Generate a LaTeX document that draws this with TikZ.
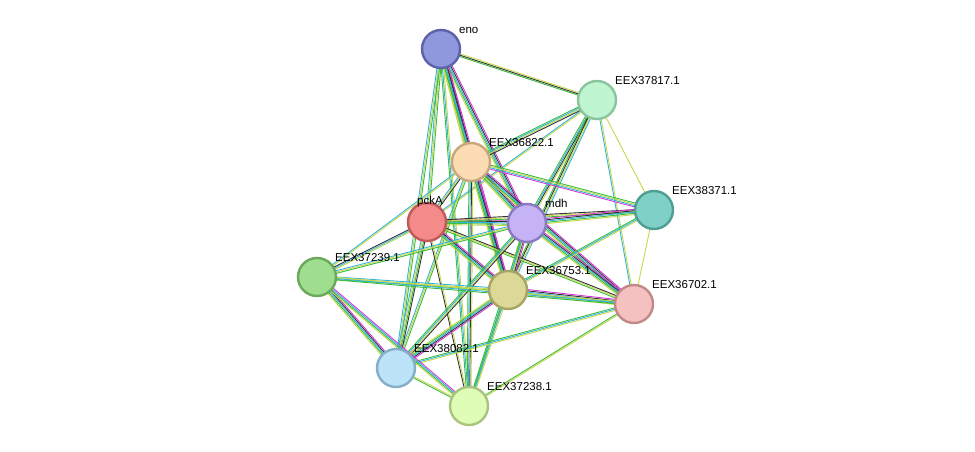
\documentclass[tikz,border=0pt]{standalone}
\usepackage{fontspec}
\setmainfont{Liberation Sans}
\usetikzlibrary{calc}
\definecolor{cY}{HTML}{C8D84A}\definecolor{cG}{HTML}{3DBD3D}\definecolor{cB}{HTML}{31B4E0}
\definecolor{cK}{HTML}{333333}\definecolor{cM}{HTML}{D63AD6}
\newcommand\E[3]{%
 \foreach \c [count=\n] in {#3}{\xdef\nn{\n}}%
 \foreach \c [count=\i] in {#3}{%
  \pgfmathsetmacro\o{(\i-(\nn+1)/2)*1.3}%
  \draw[\c,line width=0.9pt] ($(#1)!\o pt!90:(#2)$) -- ($(#2)!\o pt!-90:(#1)$);}}
\newcommand\ER[2]{\E{#1}{#2}{cY,cG,cB,cK,cM}}
\tikzset{prot/.style={circle,minimum size=38pt,line width=2.4pt,inner sep=0pt},
 lab/.style={font=\fontsize{11.5}{12}\selectfont,anchor=south west,inner sep=1pt}}
\begin{document}
\begin{tikzpicture}[x=1pt,y=-1pt]
\useasboundingbox (0,0) rectangle (975,452);
\fill[white] (0,0) rectangle (975,452);
\coordinate (eno) at (441,49);
\coordinate (e817) at (597,100);
\coordinate (e822) at (471,162);
\coordinate (pck) at (427,222);
\coordinate (mdh) at (527,223);
\coordinate (e371) at (654,210);
\coordinate (e239) at (317,277);
\coordinate (e753) at (508,290);
\coordinate (e702) at (634,304);
\coordinate (e082) at (396,368);
\coordinate (e238) at (469,406);
\E{eno}{e817}{cG,cK,cY}
\ER{eno}{e822}
\E{eno}{pck}{cB,cY,cG}
\ER{eno}{mdh}
\ER{eno}{e753}
\E{eno}{e238}{cG,cB,cY}
\E{eno}{e082}{cB,cY,cG}
\E{e817}{e822}{cG,cB,cY,cK}
\E{e817}{pck}{cB,cY}
\E{e817}{mdh}{cG,cB,cK,cY}
\E{e817}{e753}{cG,cK,cY,cB}
\E{e817}{e371}{cY}
\E{e817}{e702}{cB,cY}
\E{e822}{pck}{cB,cY,cK}
\ER{e822}{mdh}
\E{e822}{e371}{cM,cB,cY,cG}
\ER{e822}{e753}
\ER{e822}{e702}
\E{e822}{e239}{cB,cY}
\E{e822}{e082}{cB,cY,cG}
\E{e822}{e238}{cG,cB,cK,cY}
\ER{pck}{mdh}
\E{pck}{e371}{cG,cY,cK}
\ER{pck}{e753}
\E{pck}{e702}{cG,cY,cK}
\E{pck}{e239}{cK,cB,cY}
\E{pck}{e082}{cB,cY,cG,cK}
\E{pck}{e238}{cK,cY}
\ER{mdh}{e371}
\ER{mdh}{e753}
\ER{mdh}{e702}
\E{mdh}{e239}{cB,cY,cG}
\E{mdh}{e082}{cG,cB,cY,cK}
\E{mdh}{e238}{cG,cB,cY}
\E{e371}{e753}{cG,cB,cY}
\E{e371}{e702}{cY}
\ER{e753}{e702}
\E{e753}{e239}{cB,cY,cG}
\ER{e753}{e082}
\E{e753}{e238}{cG,cB,cY}
\E{e702}{e082}{cG,cB,cY}
\E{e702}{e238}{cG,cY}
\ER{e239}{e082}
\E{e239}{e238}{cY,cG,cB,cM}
\E{e239}{e702}{cG,cB,cY}
\E{e082}{e238}{cG,cY}
\node[prot,fill={rgb,255:red,143;green,151;blue,221},draw={rgb,255:red,92;green,99;blue,168}] (neno) at (eno) {};
\node[prot,fill={rgb,255:red,192;green,245;blue,210},draw={rgb,255:red,139;green,196;blue,158}] (ne817) at (e817) {};
\node[prot,fill={rgb,255:red,252;green,220;blue,178},draw={rgb,255:red,201;green,167;blue,126}] (ne822) at (e822) {};
\node[prot,fill={rgb,255:red,245;green,138;blue,138},draw={rgb,255:red,192;green,90;blue,90}] (npck) at (pck) {};
\node[prot,fill={rgb,255:red,198;green,179;blue,245},draw={rgb,255:red,138;green,121;blue,192}] (nmdh) at (mdh) {};
\node[prot,fill={rgb,255:red,127;green,208;blue,198},draw={rgb,255:red,79;green,158;blue,148}] (ne371) at (e371) {};
\node[prot,fill={rgb,255:red,159;green,221;blue,143},draw={rgb,255:red,106;green,168;blue,92}] (ne239) at (e239) {};
\node[prot,fill={rgb,255:red,220;green,216;blue,152},draw={rgb,255:red,168;green,164;blue,100}] (ne753) at (e753) {};
\node[prot,fill={rgb,255:red,245;green,192;blue,192},draw={rgb,255:red,192;green,138;blue,138}] (ne702) at (e702) {};
\node[prot,fill={rgb,255:red,188;green,227;blue,248},draw={rgb,255:red,132;green,175;blue,199}] (ne082) at (e082) {};
\node[prot,fill={rgb,255:red,224;green,253;blue,184},draw={rgb,255:red,169;green,196;blue,127}] (ne238) at (e238) {};
\node[lab] (leno) at ($(eno)+(17,-14)$) {eno};
\node[lab] (le817) at ($(e817)+(17,-14)$) {EEX37817.1};
\node[lab] (le822) at ($(e822)+(17,-14)$) {EEX36822.1};
\node[lab] (lpck) at ($(pck)+(-11,-14)$) {pckA};
\node[lab] (lmdh) at ($(mdh)+(17,-14)$) {mdh};
\node[lab] (le371) at ($(e371)+(17,-14)$) {EEX38371.1};
\node[lab] (le239) at ($(e239)+(17,-14)$) {EEX37239.1};
\node[lab] (le753) at ($(e753)+(17,-14)$) {EEX36753.1};
\node[lab] (le702) at ($(e702)+(17,-14)$) {EEX36702.1};
\node[lab] (le082) at ($(e082)+(17,-14)$) {EEX38082.1};
\node[lab] (le238) at ($(e238)+(17,-14)$) {EEX37238.1};
\end{tikzpicture}
\end{document}
